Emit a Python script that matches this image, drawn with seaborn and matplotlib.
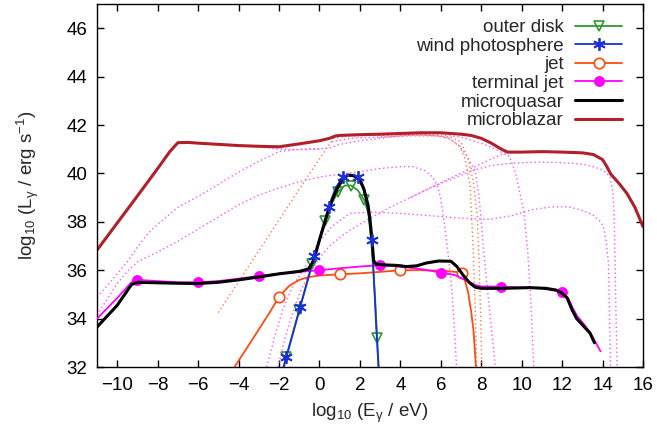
import numpy as np
import seaborn as sns
import matplotlib
matplotlib.use("Agg")
import matplotlib.pyplot as plt
from matplotlib.lines import Line2D

# ---- data (log10 E [eV], log10 L [erg/s]) ----
disk_E = [-1.75, -1.63, -0.99, -0.35, 0.29, 0.6, 0.93, 1.25, 1.57, 1.9, 2.21, 2.42, 2.58, 2.75, 2.85, 2.93]
disk_L = [32.0, 32.4, 34.35, 36.25, 38.05, 38.75, 39.25, 39.5, 39.5, 39.3, 38.9, 38.35, 37.0, 34.9, 33.2, 32.0]
disk_mE = [-1.63, -0.99, -0.35, 0.29, 0.93, 1.57, 2.21, 2.85]
disk_mL = [32.4, 34.35, 36.25, 38.05, 39.25, 39.5, 38.9, 33.2]

wind_E = [-1.78, -1.65, -0.95, -0.25, 0.45, 0.8, 1.15, 1.5, 1.9, 2.2, 2.4, 2.6, 2.7, 2.8, 2.92]
wind_L = [32.0, 32.4, 34.5, 36.6, 38.6, 39.4, 39.85, 39.95, 39.85, 39.3, 38.5, 37.25, 35.5, 33.8, 32.0]
wind_mE = [-1.65, -0.95, -0.25, 0.45, 1.15, 1.9, 2.6]
wind_mL = [32.4, 34.5, 36.6, 38.6, 39.85, 39.85, 37.25]

jet_E = [-4.2, -3.5, -3.0, -2.5, -2.0, -1.5, -1.0, -0.5, 0.0, 1.0, 2.0, 3.0, 4.0, 5.0, 6.0, 6.5, 7.05, 7.2, 7.35, 7.5, 7.62, 7.74]
jet_L = [32.0, 32.9, 33.55, 34.2, 34.9, 35.35, 35.6, 35.72, 35.78, 35.83, 35.87, 35.93, 36.0, 36.0, 35.98, 35.95, 35.9, 35.55, 35.1, 34.3, 33.5, 32.0]
jet_mE = [-2.0, 1.0, 4.0, 7.05]
jet_mL = [34.9, 35.83, 36.0, 35.9]

tjet_E = [-11, -10, -9.3, -9.0, -8, -7, -6, -5, -4, -3, -2, -1, 0, 1, 2, 3, 4, 5, 6, 6.7, 7.2, 7.7, 8.0, 9.0, 10, 11, 11.7, 12.0,
          12.3, 12.55, 12.75, 13.1, 13.4, 13.7, 13.9]
tjet_L = [34.0, 34.85, 35.5, 35.6, 35.55, 35.5, 35.5, 35.55, 35.65, 35.76, 35.85, 35.93, 36.0, 36.08, 36.15, 36.21, 36.15, 36.05,
          35.9, 35.8, 35.6, 35.39, 35.33, 35.32, 35.28, 35.25, 35.15, 35.08, 34.85, 34.4, 34.1, 33.75, 33.4, 32.95, 32.65]
tjet_mE = [-9, -6, -3, 0, 3, 6, 9, 12]
tjet_mL = [35.6, 35.5, 35.76, 36.0, 36.21, 35.9, 35.32, 35.08]

mq_E = [-11, -10, -9.3, -9.0, -8, -7, -6, -5, -4, -3, -2, -1, -0.55, -0.35, -0.15, 0.0, 0.2, 0.4, 0.65, 0.9, 1.15, 1.4,
        1.7, 2.0, 2.2, 2.4, 2.5, 2.6, 2.68, 2.8, 3.2, 3.8, 4.3, 4.8, 5.3, 5.9, 6.5, 6.8, 7.1, 7.4, 7.7, 8.0, 9.0, 10.4,
        11.2, 11.7, 12.0, 12.25, 12.5, 12.72, 13.05, 13.38, 13.6]
mq_L = [33.65, 34.55, 35.4, 35.5, 35.48, 35.46, 35.45, 35.5, 35.6, 35.72, 35.85, 35.95, 36.05, 36.3, 36.8, 37.25, 37.8,
        38.35, 38.95, 39.4, 39.75, 39.93, 39.9, 39.75, 39.35, 38.7, 38.1, 37.25, 36.4, 36.25, 36.22, 36.2, 36.15, 36.18,
        36.3, 36.38, 36.37, 36.15, 35.8, 35.5, 35.3, 35.25, 35.25, 35.28, 35.25, 35.18, 35.05, 34.85, 34.35, 34.0, 33.7,
        33.4, 33.0]

mb_E = [-11, -10, -9, -8, -7.4, -7.0, -6.5, -6, -5, -4, -3, -2, -1, 0, 0.5, 0.8, 1.0, 2, 3, 4, 5, 6, 7, 7.5, 8.0, 8.5,
        9.0, 9.3, 10, 11, 12, 13, 13.55, 14.0, 14.2, 14.4, 14.8, 15.2, 15.6, 16.0]
mb_L = [36.83, 37.95, 39.07, 40.2, 40.9, 41.27, 41.28, 41.25, 41.2, 41.15, 41.12, 41.1, 41.22, 41.35, 41.45, 41.55, 41.57,
        41.6, 41.62, 41.65, 41.68, 41.68, 41.62, 41.57, 41.45, 41.25, 41.0, 40.88, 40.88, 40.9, 40.88, 40.85, 40.78, 40.57,
        40.3, 39.98, 39.6, 39.18, 38.6, 37.8]

# dotted components
d0_E = [-11, -10, -9, -8, -7.4, -7.0, -6.5, -6, -5, -4, -3, -2, -1, 0]
d0_L = [36.83, 37.95, 39.07, 40.2, 40.9, 41.27, 41.28, 41.25, 41.2, 41.15, 41.1, 41.0, 40.98, 41.0]

d1_E = [-11, -10.5, -10, -9.5, -9, -8.5, -8, -7, -6, -5, -4, -3, -2, -1, 0, 0.5, 1, 2, 3, 4, 5, 6, 7, 8, 8.7, 9.4, 9.7,
        10.09, 10.3, 10.45, 10.6]
d1_L = [34.9, 35.35, 35.85, 36.35, 36.95, 37.5, 37.9, 38.6, 39.05, 39.55, 40.05, 40.5, 40.9, 41.0, 41.02, 41.05, 41.2,
        41.35, 41.45, 41.55, 41.6, 41.6, 41.5, 41.25, 41.0, 40.7, 40.0, 38.5, 36.8, 34.8, 32.0]

d2_E = [-11, -10.5, -10, -9.5, -9, -8, -7, -6, -5, -4, -3, -2, -1, 0, 1, 2, 3, 4, 4.6, 5.2, 5.6, 5.85, 6.0, 6.2, 6.4,
        6.55, 6.68, 6.78]
d2_L = [34.15, 34.8, 35.45, 35.95, 36.35, 36.75, 37.2, 37.7, 38.2, 38.7, 39.1, 39.4, 39.65, 39.85, 39.97, 40.07, 40.2,
        40.28, 40.28, 40.12, 39.85, 39.45, 38.95, 37.8, 36.4, 35.2, 33.5, 32.0]

d3_E = [-2.05, -1.7, -1.3, -0.9, -0.47, 0, 0.5, 1.0, 1.5, 2.5, 3.5, 4.5, 5.6, 6.5, 7.5, 8.5, 9.5, 10.5, 11.5, 12.5,
        13.2, 13.6, 14.0, 14.2, 14.37, 14.5, 14.57, 14.62, 14.67, 14.72]
d3_L = [32.0, 33.2, 34.3, 35.2, 35.9, 36.5, 37.0, 37.35, 37.65, 38.15, 38.6, 39.0, 39.45, 39.75, 40.1, 40.33, 40.42,
        40.46, 40.46, 40.42, 40.35, 40.26, 40.15, 40.0, 39.85, 39.3, 38.3, 36.3, 34.0, 32.0]

d4_E = [4.5, 5.6, 6.5, 7.5, 8.5, 9.0, 9.3, 10, 11, 12, 13, 13.55, 14.0, 14.2, 14.4, 14.8, 15.2, 15.6, 16.0]
d4_L = [39.0, 39.45, 39.82, 40.2, 40.6, 40.78, 40.88, 40.88, 40.9, 40.88, 40.85, 40.78, 40.57, 40.3, 39.98, 39.6, 39.18,
        38.6, 37.8]

d5_E = [-2.6, -2.2, -1.8, -1.3, -0.8, -0.4, 0.03, 0.6, 1.5, 2.5, 4, 5.5, 7, 8.4, 9.5, 10.5, 11.5, 12.3, 12.9, 13.5,
        13.9, 14.04, 14.18, 14.29, 14.34, 14.39]
d5_L = [32.0, 33.3, 34.4, 35.4, 36.0, 36.6, 37.2, 37.8, 38.35, 38.4, 38.35, 38.25, 38.15, 38.1, 38.25, 38.5, 38.62,
        38.62, 38.5, 38.3, 38.0, 37.8, 37.2, 36.3, 34.5, 32.0]

d6_E = [0.6, 1.5, 3, 4.5, 5.8, 6.4, 6.9, 7.3, 7.7, 7.9, 8.1, 8.3, 8.5, 8.7]
d6_L = [41.3, 41.45, 41.5, 41.55, 41.55, 41.45, 41.15, 40.7, 40.1, 39.0, 37.0, 35.3, 33.6, 32.0]

o1_E = [-5.0, -3, -1, 0.0, 0.7, 1.5, 3, 4.5, 6.0, 6.5, 6.95, 7.2, 7.45, 7.6, 7.7, 7.78]
o1_L = [34.25, 36.8, 39.35, 40.6, 41.45, 41.55, 41.58, 41.6, 41.55, 41.4, 41.1, 40.6, 39.5, 37.0, 34.5, 32.0]

o2_E = [3, 5, 6.5, 7.0, 7.35, 7.6, 7.8, 7.9, 7.97, 8.03]
o2_L = [41.5, 41.6, 41.5, 41.3, 40.6, 39.7, 38.3, 36.2, 34.2, 32.0]

# ---- style ----
sns.set_theme(style="ticks")
plt.rcParams["font.family"] = ["Liberation Sans", "DejaVu Sans"]
plt.rcParams["mathtext.fontset"] = "custom"
plt.rcParams["mathtext.rm"] = "Liberation Sans"
plt.rcParams["mathtext.it"] = "Liberation Sans:italic"
plt.rcParams["mathtext.default"] = "regular"

c_disk = "#2e9a2e"
c_wind = "#1c2fd8"
c_jet = "#ff4a10"
c_tjet = "#ff00ff"
c_mb = "#b0202a"
c_dot = "#ff55ff"
c_odot = "#ff7a45"

fig = plt.figure(figsize=(6.57, 4.37), dpi=100)
ax = fig.add_axes([97 / 657, 1 - 367 / 437, 546 / 657, 363 / 437])

dots = (0, (1, 2))
for e, l in [(d0_E, d0_L), (d1_E, d1_L), (d2_E, d2_L), (d3_E, d3_L), (d4_E, d4_L), (d5_E, d5_L), (d6_E, d6_L)]:
    sns.lineplot(x=e, y=l, sort=False, estimator=None, ax=ax, color=c_dot, lw=1.0, linestyle=dots, zorder=1)
for e, l in [(o1_E, o1_L), (o2_E, o2_L)]:
    sns.lineplot(x=e, y=l, sort=False, estimator=None, ax=ax, color=c_odot, lw=1.0, linestyle=dots, zorder=1)

sns.lineplot(x=mb_E, y=mb_L, sort=False, estimator=None, ax=ax, color=c_mb, lw=2.2, zorder=2)

sns.lineplot(x=disk_E, y=disk_L, sort=False, estimator=None, ax=ax, color=c_disk, lw=1.3, zorder=3)
ax.plot(disk_mE, disk_mL, ls="none", marker="v", ms=7, mfc="none", mec=c_disk, mew=1.2, zorder=3)

sns.lineplot(x=jet_E, y=jet_L, sort=False, estimator=None, ax=ax, color=c_jet, lw=1.3, zorder=3)
ax.plot(jet_mE, jet_mL, ls="none", marker="o", ms=7.5, mfc="white", mec=c_jet, mew=1.2, zorder=3)

sns.lineplot(x=tjet_E, y=tjet_L, sort=False, estimator=None, ax=ax, color=c_tjet, lw=1.3, zorder=3)
ax.plot(tjet_mE, tjet_mL, ls="none", marker="o", ms=6.8, mfc=c_tjet, mec=c_tjet, zorder=3)

sns.lineplot(x=wind_E, y=wind_L, sort=False, estimator=None, ax=ax, color=c_wind, lw=1.3, zorder=4)
ax.plot(wind_mE, wind_mL, ls="none", marker=(6, 2, 0), ms=9, mec=c_wind, mew=1.3, zorder=6)

sns.lineplot(x=mq_E, y=mq_L, sort=False, estimator=None, ax=ax, color="black", lw=2.2, zorder=5)

ax.set_xlim(-11, 16)
ax.set_ylim(32, 47)
ax.set_xticks(np.arange(-10, 17, 2))
ax.set_yticks(np.arange(32, 47, 2))
ax.tick_params(direction="in", top=True, right=True, length=5, width=1, labelsize=13.5, pad=7, colors="black")
for s in ax.spines.values():
    s.set_linewidth(1)
    s.set_color("black")
ax.set_xlabel(r"log$_{10}$ (E$_{\gamma}$ / eV)", fontsize=13.5, labelpad=6)
ax.set_ylabel(r"log$_{10}$ (L$_{\gamma}$ / erg s$^{-1}$)", fontsize=13.5, labelpad=18)

handles = [
    Line2D([], [], color=c_disk, lw=1.3, marker="v", ms=7, mfc="none", mec=c_disk, mew=1.2),
    Line2D([], [], color=c_wind, lw=1.3, marker=(6, 2, 0), ms=9, mew=1.3),
    Line2D([], [], color=c_jet, lw=1.3, marker="o", ms=7.5, mfc="white", mec=c_jet, mew=1.2),
    Line2D([], [], color=c_tjet, lw=1.3, marker="o", ms=6.8),
    Line2D([], [], color="black", lw=2.2),
    Line2D([], [], color=c_mb, lw=2.2),
]
labels = ["outer disk", "wind photosphere", "jet", "terminal jet", "microquasar", "microblazar"]
ax.legend(handles, labels, loc="upper right", bbox_to_anchor=(622 / 657, 1 - 19 / 437),
          bbox_transform=fig.transFigure, frameon=False, markerfirst=False, fontsize=13.5,
          handlelength=2.5, handletextpad=0.6, labelspacing=0.08, borderpad=0, borderaxespad=0)

fig.savefig("out.png", dpi=100)
